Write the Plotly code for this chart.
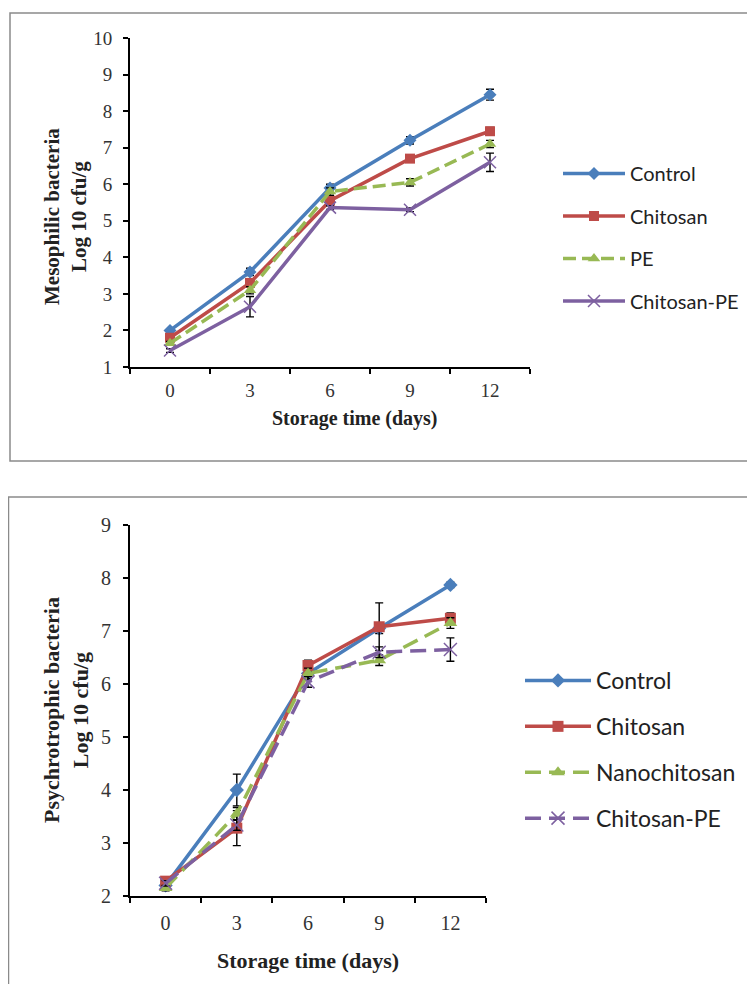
import plotly.graph_objects as go

# ---------------- data ----------------
days = ["0", "3", "6", "9", "12"]

# Top panel: Mesophilic bacteria (log10 cfu/g)
meso_series = ["Control", "Chitosan", "PE", "Chitosan-PE"]
meso_control = [2.0, 3.6, 5.9, 7.2, 8.45]
meso_control_err = [0.05, 0.1, 0.1, 0.1, 0.15]
meso_chitosan = [1.8, 3.3, 5.55, 6.7, 7.45]
meso_chitosan_err = [0.05, 0.1, 0.1, 0.1, 0.1]
meso_pe = [1.65, 3.1, 5.8, 6.05, 7.1]
meso_pe_err = [0.05, 0.1, 0.1, 0.1, 0.1]
meso_chpe = [1.45, 2.65, 5.36, 5.3, 6.6]
meso_chpe_err = [0.05, 0.28, 0.05, 0.05, 0.25]

# Bottom panel: Psychrotrophic bacteria (log10 cfu/g)
psy_series = ["Control", "Chitosan", "Nanochitosan", "Chitosan-PE"]
psy_control = [2.2, 4.0, 6.2, 7.05, 7.87]
psy_control_err = [0.05, 0.3, 0.1, 0.1, 0.05]
psy_chitosan = [2.28, 3.28, 6.35, 7.08, 7.24]
psy_chitosan_err = [0.05, 0.33, 0.1, 0.45, 0.1]
psy_nano = [2.15, 3.55, 6.2, 6.45, 7.15]
psy_nano_err = [0.05, 0.12, 0.1, 0.1, 0.1]
psy_chpe = [2.24, 3.34, 6.04, 6.6, 6.65]
psy_chpe_err = [0.05, 0.1, 0.1, 0.1, 0.22]

meso_ticks = list(range(1, 11))
psy_ticks = list(range(2, 10))

# ---------------- styles ----------------
# the page body has an 8px margin, so the figure is sized to fit the window
OFF = 8
W, H = 755 - 2 * OFF, 992 - 2 * OFF
BLUE, RED, GREEN, PURPLE = "#4A7EBB", "#BE4B48", "#98B954", "#7D60A0"
SERIF = "Liberation Serif"
SANS = "Lato"
TICKC = "#333333"


def px(x):
    return (x - OFF) / W


def py(y):
    return 1 - (y - OFF) / H


fig = go.Figure()

panels = [
    dict(xa="x", ya="y", legend="legend", names=meso_series,
         vals=[meso_control, meso_chitosan, meso_pe, meso_chpe],
         errs=[meso_control_err, meso_chitosan_err, meso_pe_err, meso_chpe_err],
         dashes=["solid", "solid", "13px,6px", "solid"], msize=10),
    dict(xa="x2", ya="y2", legend="legend2", names=psy_series,
         vals=[psy_control, psy_chitosan, psy_nano, psy_chpe],
         errs=[psy_control_err, psy_chitosan_err, psy_nano_err, psy_chpe_err],
         dashes=["solid", "solid", "16px,8px", "16px,8px"], msize=11),
]
colors = [BLUE, RED, GREEN, PURPLE]
symbols = ["diamond", "square", "triangle-up", "x-thin"]

for p in panels:
    for i, name in enumerate(p["names"]):
        marker = dict(symbol=symbols[i], size=p["msize"] + (1 if i == 2 else 0),
                      color=colors[i])
        if symbols[i] == "x-thin":
            marker["line"] = dict(color=colors[i], width=1.5)
            marker["size"] = p["msize"] + 2
        fig.add_trace(go.Scatter(
            x=days, y=p["vals"][i], name=name, mode="lines+markers",
            xaxis=p["xa"], yaxis=p["ya"], legend=p["legend"],
            legendgroup=p["legend"] + name,
            line=dict(color=colors[i], width=3.5, dash=p["dashes"][i]),
            marker=marker,
            error_y=dict(type="data", array=p["errs"][i], visible=True,
                         color="black", thickness=1.4, width=4),
        ))

axis_common = dict(showline=True, linecolor="black", linewidth=2,
                   ticks="outside", tickcolor="black", tickwidth=2, ticklen=5,
                   showgrid=False, zeroline=False, fixedrange=True)

fig.update_layout(
    width=W, height=H, margin=dict(l=0, r=0, t=0, b=0, autoexpand=False),
    paper_bgcolor="white", plot_bgcolor="white", showlegend=True,
    xaxis=dict(domain=[px(130), px(530)], anchor="y", type="category",
               range=[-0.5, 4.5], tickson="boundaries", ticklabelstandoff=5,
               tickfont=dict(family=SERIF, size=19, color=TICKC),
               **axis_common),
    yaxis=dict(domain=[py(367), py(38)], anchor="x", range=[1, 10],
               tickvals=meso_ticks, ticklabelstandoff=7,
               tickfont=dict(family=SERIF, size=19, color=TICKC),
               **axis_common),
    xaxis2=dict(domain=[px(130), px(486)], anchor="y2", type="category",
                range=[-0.5, 4.5], tickson="boundaries", ticklabelstandoff=8,
                tickfont=dict(family=SERIF, size=20, color=TICKC),
                **axis_common),
    yaxis2=dict(domain=[py(896), py(525)], anchor="x2", range=[2, 9],
                tickvals=psy_ticks, ticklabelstandoff=8,
                tickfont=dict(family=SERIF, size=20, color=TICKC),
                **axis_common),
    legend=dict(x=px(558), y=py(154), xanchor="left", yanchor="top",
                font=dict(family=SANS, size=20, color="#222222"),
                tracegroupgap=13.5, bgcolor="rgba(0,0,0,0)", itemwidth=62),
    legend2=dict(x=px(520), y=py(659), xanchor="left", yanchor="top",
                 font=dict(family=SANS, size=23, color="#222222"),
                 tracegroupgap=13, bgcolor="rgba(0,0,0,0)", itemwidth=66),
)

# panel frames
fig.add_shape(type="rect", xref="paper", yref="paper",
              x0=px(10), x1=px(750), y0=py(461), y1=py(13),
              line=dict(color="#8a8a8a", width=1.5), fillcolor="rgba(0,0,0,0)")
fig.add_shape(type="rect", xref="paper", yref="paper",
              x0=px(8.5), x1=px(750), y0=py(1030), y1=py(497),
              line=dict(color="#8a8a8a", width=1.5), fillcolor="rgba(0,0,0,0)")

# axis titles
fig.add_annotation(text="<b>Mesophilic bacteria</b><br><b>Log 10 cfu/g</b>",
                   xref="paper", yref="paper", x=px(65), y=py(217), textangle=-90,
                   showarrow=False, font=dict(family=SERIF, size=21, color="#222222"),
                   xanchor="center", yanchor="middle")
fig.add_annotation(text="<b>Storage time (days)</b>", xref="paper", yref="paper",
                   x=px(355), y=py(418), showarrow=False,
                   font=dict(family=SERIF, size=20, color="#222222"),
                   xanchor="center", yanchor="middle")
fig.add_annotation(text="<b>Psychrotrophic bacteria</b><br><b>Log 10 cfu/g</b>",
                   xref="paper", yref="paper", x=px(66), y=py(710), textangle=-90,
                   showarrow=False, font=dict(family=SERIF, size=22, color="#222222"),
                   xanchor="center", yanchor="middle")
fig.add_annotation(text="<b>Storage time (days)</b>", xref="paper", yref="paper",
                   x=px(308), y=py(960), showarrow=False,
                   font=dict(family=SERIF, size=22, color="#222222"),
                   xanchor="center", yanchor="middle")

fig.write_html("out.html")
